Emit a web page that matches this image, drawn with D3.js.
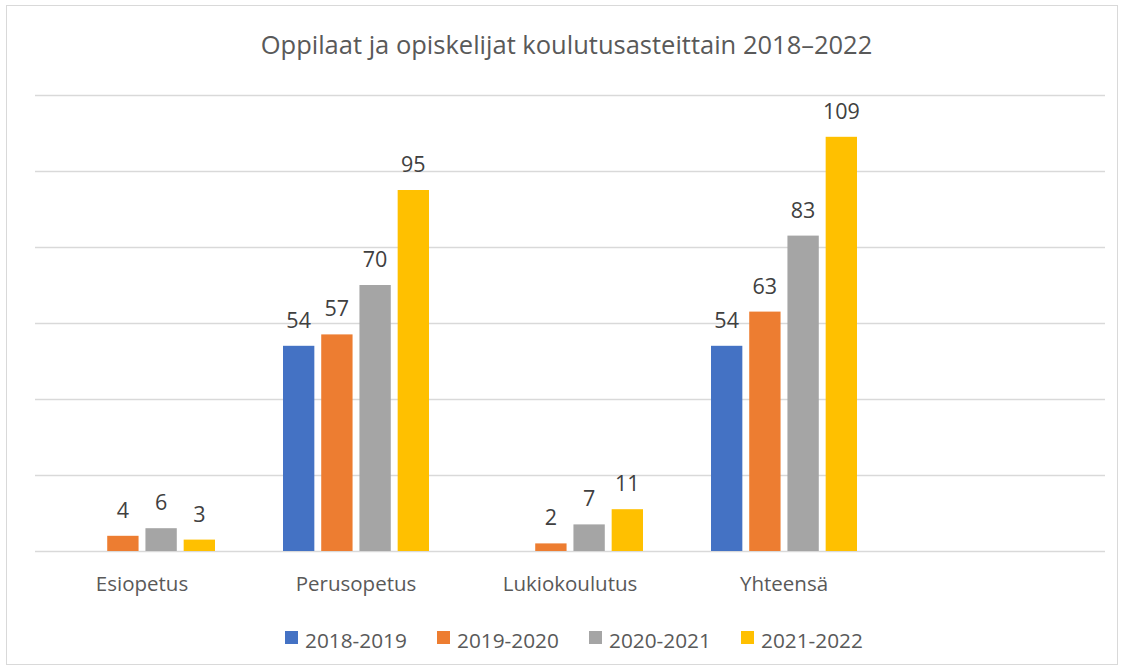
<!DOCTYPE html>
<html><head><meta charset="utf-8">
<script src="https://cdn.jsdelivr.net/npm/d3@7"></script>
<style>
html,body{margin:0;padding:0;background:#fff;}
svg{display:block;}
</style></head>
<body>
<svg id="chart" width="1124" height="670"></svg>
<script>
const categories = ["Esiopetus", "Perusopetus", "Lukiokoulutus", "Yhteensä", ""];
const seriesNames = ["2018-2019", "2019-2020", "2020-2021", "2021-2022"];
const s2018 = [null, 54, null, 54, null];
const s2019 = [4, 57, 2, 63, null];
const s2020 = [6, 70, 7, 83, null];
const s2021 = [3, 95, 11, 109, null];
const colors = ["#4472C4", "#ED7D31", "#A5A5A5", "#FFC000"];
const yTicks = [0, 20, 40, 60, 80, 100, 120];
const title = "Oppilaat ja opiskelijat koulutusasteittain 2018–2022";

(function () {
const values = [s2018, s2019, s2020, s2021];
const font = "'Open Sans', 'Noto Sans', sans-serif";
const svg = d3.select("#chart");

// frame
svg.append("rect").attr("x", 6.5).attr("y", 5.5).attr("width", 1111).attr("height", 659)
  .attr("fill", "#fff").attr("stroke", "#D9D9D9").attr("stroke-width", 1);

const pLeft = 35, pRight = 1105, pTop = 95, pBottom = 551;
const x0 = d3.scaleBand().domain(categories.map((c, i) => i)).range([pLeft, pRight]).padding(0);
const groupW = 146;
const x1 = d3.scaleBand().domain(seriesNames).range([0, groupW]).paddingInner(0.18).paddingOuter(0);
const y = d3.scaleLinear().domain([0, 120]).range([pBottom, pTop]);

// grid
svg.append("g").selectAll("line").data(yTicks).join("line")
  .attr("x1", pLeft).attr("x2", pRight)
  .attr("y1", d => Math.round(y(d)) + 0.5).attr("y2", d => Math.round(y(d)) + 0.5)
  .attr("stroke", "#D9D9D9").attr("stroke-width", 1.3);

// title
svg.append("text").attr("x", 566.5).attr("y", 54).attr("text-anchor", "middle")
  .attr("font-family", font).attr("font-size", 25.5).attr("fill", "#595959").text(title);

// bars
const offset = (x0.bandwidth() - groupW) / 2;
const g = svg.append("g");
values.forEach((arr, si) => {
  const data = arr.map((v, ci) => ({v, ci})).filter(d => d.v != null);
  g.selectAll(".b" + si).data(data).join("rect")
    .attr("x", d => x0(d.ci) + offset + x1(seriesNames[si]))
    .attr("y", d => y(d.v))
    .attr("width", x1.bandwidth())
    .attr("height", d => y(0) - y(d.v))
    .attr("fill", colors[si]);
  g.selectAll(".l" + si).data(data).join("text")
    .attr("x", d => x0(d.ci) + offset + x1(seriesNames[si]) + x1.bandwidth() / 2)
    .attr("y", d => y(d.v) - 18)
    .attr("text-anchor", "middle")
    .attr("font-family", font).attr("font-size", 21.5).attr("fill", "#404040")
    .text(d => d.v);
});

// x axis labels
const xAxis = d3.axisBottom(x0).tickSize(0).tickFormat(i => categories[i]);
const ax = svg.append("g").attr("transform", `translate(0,${pBottom})`).call(xAxis);
ax.select(".domain").remove();
ax.selectAll("text").attr("font-family", font).attr("font-size", 20.5).attr("fill", "#595959")
  .attr("dy", 0).attr("y", 40);

// legend
const legX = [285, 437, 589, 741];
const leg = svg.append("g");
seriesNames.forEach((s, i) => {
  leg.append("rect").attr("x", legX[i]).attr("y", 631).attr("width", 13).attr("height", 13).attr("fill", colors[i]);
  leg.append("text").attr("x", legX[i] + 20).attr("y", 648).attr("font-family", font)
    .attr("font-size", 20.8).attr("fill", "#595959").text(s);
});
})();
</script>
</body></html>
